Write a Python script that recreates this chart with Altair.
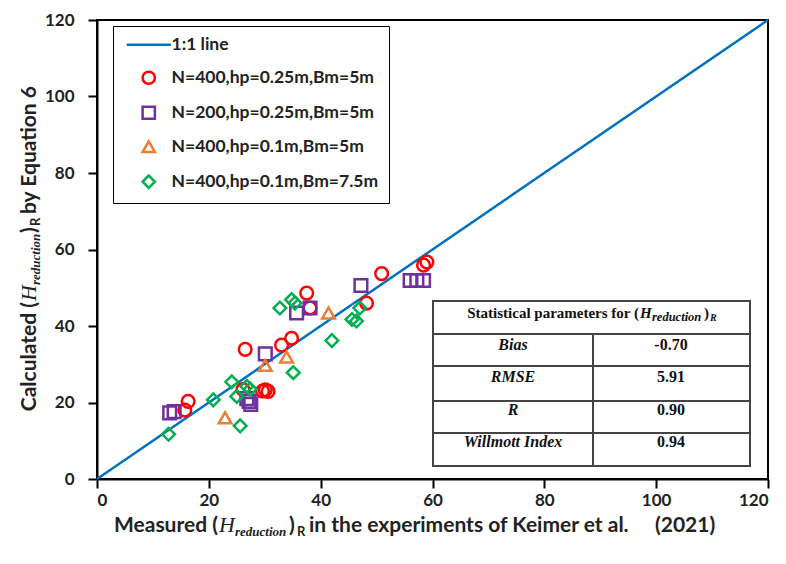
import altair as alt
import pandas as pd

# ---------------- data ----------------
series_names = ["1:1 line", "N=400,hp=0.25m,Bm=5m", "N=200,hp=0.25m,Bm=5m",
                "N=400,hp=0.1m,Bm=5m", "N=400,hp=0.1m,Bm=7.5m"]
series_colors = ["#0070C0", "#FF0000", "#7030A0", "#ED7D31", "#00B050"]
series_shapes = ["M-3.6,0H3.6", "circle", "square", "triangle-up", "diamond"]

red_x = [16.3, 15.7, 26.5, 26.1, 29.6, 30.1, 30.6, 33.0, 34.8, 37.5, 38.1, 48.2, 50.9, 58.4, 59.0]
red_y = [20.3, 18.0, 33.9, 23.4, 23.0, 23.3, 22.9, 35.0, 36.8, 48.6, 44.7, 46.0, 53.7, 55.9, 56.7]

purple_x = [13.0, 13.8, 26.8, 27.5, 27.2, 30.1, 35.7, 38.1, 47.2, 56.0, 57.2, 58.4]
purple_y = [17.3, 17.6, 21.0, 19.5, 20.3, 32.7, 43.4, 44.7, 50.6, 51.9, 51.9, 51.9]

orange_x = [22.9, 30.1, 33.9, 41.4]
orange_y = [16.0, 29.7, 31.9, 43.4]

green_x = [12.8, 20.8, 24.1, 25.0, 26.8, 27.4, 25.6, 35.1, 32.7, 34.8, 35.4, 42.0, 45.6, 46.4, 47.0]
green_y = [11.7, 20.7, 25.4, 21.6, 24.2, 23.5, 13.9, 27.8, 44.7, 46.9, 46.0, 36.2, 41.7, 41.3, 44.7]

line_x = [0, 120]
line_y = [0, 120]

axis_ticks = [0, 20, 40, 60, 80, 100, 120]

table_labels = ["Bias", "RMSE", "R", "Willmott Index"]
table_values = ["-0.70", "5.91", "0.90", "0.94"]

# ---------------- frames ----------------
rows = []
for name, xs, ys in [(series_names[1], red_x, red_y), (series_names[2], purple_x, purple_y),
                     (series_names[3], orange_x, orange_y), (series_names[4], green_x, green_y)]:
    for a, b in zip(xs, ys):
        rows.append({"series": name, "x": a, "y": b})
pts = pd.DataFrame(rows)
df_line = pd.DataFrame({"x": line_x, "y": line_y})
one = pd.DataFrame({"k": [0]})

TOP = 12  # plot top offset inside svg
W, H = 671, 459
xscale = alt.Scale(domain=[0, 120], nice=False)
yscale = alt.Scale(domain=[0, 120], nice=False)


def sy(screen_y):
    """convert a page pixel row to a row relative to the plot top"""
    return screen_y - 8 - TOP


def sx(screen_x):
    return screen_x - 97


line = alt.Chart(df_line).mark_line(color="#0070C0", strokeWidth=2.5).encode(
    x=alt.X("x:Q", scale=xscale, axis=alt.Axis(values=axis_ticks, title=None)),
    y=alt.Y("y:Q", scale=yscale, axis=alt.Axis(values=axis_ticks, title=None)),
)

points = alt.Chart(pts).mark_point(filled=False, strokeWidth=2.5, size=160, opacity=1).encode(
    x="x:Q",
    y="y:Q",
    color=alt.Color("series:N", scale=alt.Scale(domain=series_names, range=series_colors),
                    legend=alt.Legend(orient="none", legendX=16, legendY=sy(26), title=None,
                                      padding=10, symbolOffset=17, labelOffset=14,
                                      rowPadding=12, strokeColor="black", fillColor="white",
                                      labelFont="Lato", labelFontSize=17.5, labelFontWeight="bold",
                                      labelColor="#222", symbolSize=150, symbolStrokeWidth=2.5,
                                      labelLimit=400)),
    shape=alt.Shape("series:N", scale=alt.Scale(domain=series_names, range=series_shapes),
                    legend=alt.Legend(orient="none", legendX=16, legendY=sy(26), title=None)),
)

layers = [line, points]


def txt(s, x, y, font="Lato", size=18, weight="bold", style="normal", align="left",
        baseline="alphabetic", angle=0, color="#222"):
    kw = dict(font=font, fontSize=size, fontWeight=weight, fontStyle=style, align=align,
              baseline=baseline, color=color)
    if angle:
        kw["angle"] = angle
    return alt.Chart(one).mark_text(**kw).encode(
        x=alt.value(x), y=alt.value(y), text=alt.value(s))


SERIF = "Liberation Serif"

# ---- x axis title pieces ----
xb = sy(532)
xt = [
    ("Measured (", sx(218), xb, "Lato", 21, "bold", "normal", "right"),
    ("H", sx(219), xb, SERIF, 22, "normal", "italic", "left"),
    ("reduction", sx(235), xb + 4, SERIF, 13, "bold", "italic", "left"),
    (")", sx(289), xb, "Lato", 21, "bold", "normal", "left"),
    ("R", sx(297), xb + 4, "Lato", 13, "bold", "normal", "left"),
    ("in the experiments of Keimer et al.", sx(309), xb, "Lato", 21, "bold", "normal", "left"),
    ("(2021)", sx(655), xb, "Lato", 21, "bold", "normal", "left"),
]
for s, x, y, f, sz, w, st, al in xt:
    layers.append(txt(s, x, y, font=f, size=sz, weight=w, style=st, align=al))

# ---- y axis title pieces (rotated, reading bottom to top) ----
yb = sx(36)
yt = [
    ("Calculated (", yb, sy(302), "Lato", 21, "bold", "normal", "right"),
    ("H", yb, sy(301), SERIF, 22, "normal", "italic", "left"),
    ("reduction", yb + 4, sy(285), SERIF, 13, "bold", "italic", "left"),
    (")", yb, sy(233), "Lato", 21, "bold", "normal", "left"),
    ("R", yb + 4, sy(226), "Lato", 13, "bold", "normal", "left"),
    ("by Equation 6", yb, sy(214), "Lato", 21, "bold", "normal", "left"),
]
for s, x, y, f, sz, w, st, al in yt:
    layers.append(txt(s, x, y, font=f, size=sz, weight=w, style=st, align=al, angle=270))

# ---- table ----
TL, TR, TD = sx(433), sx(750), sx(593)
ys_lines = [sy(v) for v in [301, 334, 366, 401, 433, 466]]
layers.append(alt.Chart(one).mark_rect(fill="white", stroke="#444", strokeWidth=2).encode(
    x=alt.value(TL), x2=alt.value(TR), y=alt.value(ys_lines[0]), y2=alt.value(ys_lines[-1])))
for yy in ys_lines[1:-1]:
    layers.append(alt.Chart(one).mark_rule(color="#444", strokeWidth=2).encode(
        x=alt.value(TL), x2=alt.value(TR), y=alt.value(yy)))
layers.append(alt.Chart(one).mark_rule(color="#444", strokeWidth=2).encode(
    x=alt.value(TD), y=alt.value(ys_lines[1]), y2=alt.value(ys_lines[-1])))

hb = sy(318)
hdr = [
    ("Statistical parameters for (", sx(639), hb, SERIF, 15, "bold", "normal", "right"),
    ("H", sx(640), hb, SERIF, 15, "bold", "italic", "left"),
    ("reduction", sx(652), hb + 3, SERIF, 12.5, "bold", "italic", "left"),
    (")", sx(704), hb, SERIF, 15, "bold", "normal", "left"),
    ("R", sx(710), hb + 3, SERIF, 10, "bold", "italic", "left"),
]
for s, x, y, f, sz, w, st, al in hdr:
    layers.append(txt(s, x, y, font=f, size=sz, weight=w, style=st, align=al, color="#111"))

row_y = [sy(v) for v in [345, 377, 410, 442]]
for lab, val, yy in zip(table_labels, table_values, row_y):
    layers.append(txt(lab, sx(513), yy, font=SERIF, size=16, weight="bold",
                      style="italic", align="center", baseline="middle", color="#111"))
    layers.append(txt(val, sx(671), yy, font=SERIF, size=16, weight="bold",
                      align="center", baseline="middle", color="#111"))

chart = alt.layer(*layers).properties(
    width=W, height=H,
    padding={"left": 89, "top": TOP, "right": 10, "bottom": 77},
    autosize=alt.AutoSizeParams(type="none"),
).configure_view(stroke="black", strokeWidth=2).configure_axis(
    grid=False, domainColor="black", domainWidth=2, tickColor="black", tickWidth=2,
    tickSize=9, labelFont="Lato", labelFontSize=17, labelFontWeight="bold", labelColor="#222",
).configure_axisX(labelPadding=4).configure_axisY(labelPadding=14)

chart.save("out.html", embed_options={"renderer": "svg", "actions": False})
